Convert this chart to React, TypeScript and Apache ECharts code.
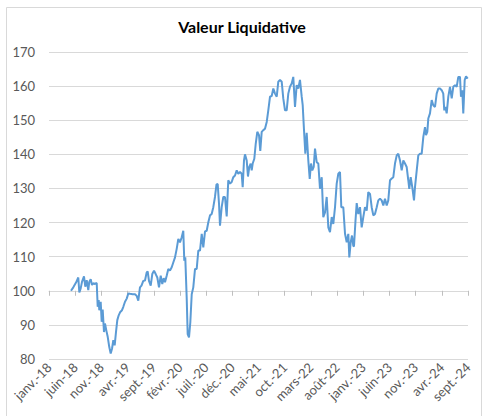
import React, { useEffect, useRef } from "react";
import * as echarts from "echarts";

const tickLabels = [
  "janv.-18", "juin-18", "nov.-18", "avr.-19", "sept.-19", "févr.-20", "juil.-20", "déc.-20",
  "mai-21", "oct.-21", "mars-22", "août-22", "janv.-23", "juin-23", "nov.-23", "avr.-24", "sept.-24",
];

// months elapsed since janv.-18
const months = [
  4.2, 4.64, 5.16, 5.59, 5.79, 6.05, 6.3, 6.68, 6.93, 7.2, 7.5, 7.69, 7.96, 8.21, 8.46, 8.78, 9.11,
  9.3, 9.49, 9.6, 9.87, 10.06, 10.25, 10.5, 10.69, 10.94, 11.21, 11.51, 11.78, 12.03, 12.28, 12.54,
  12.79, 13.04, 13.31, 13.61, 13.94, 14.19, 14.51, 14.84, 15.14, 15.47, 15.98, 16.42, 16.74, 17.05,
  17.37, 17.66, 18.0, 18.33, 18.65, 18.84, 19.09, 19.42, 19.72, 20.05, 20.37, 20.68, 21.0, 21.33,
  21.63, 21.9, 22.15, 22.47, 22.78, 23.1, 23.43, 23.73, 24.06, 24.38, 24.69, 25.01, 25.34, 25.64,
  25.83, 26.02, 26.29, 26.48, 26.73, 26.98, 27.25, 27.55, 27.88, 28.2, 28.51, 28.83, 29.16, 29.46,
  29.79, 30.11, 30.42, 30.74, 31.06, 31.37, 31.69, 31.98, 32.21, 32.46, 32.65, 32.97, 33.28, 33.6,
  33.93, 34.23, 34.56, 34.88, 35.19, 35.51, 35.84, 36.14, 36.47, 36.79, 36.98, 37.23, 37.42, 37.75,
  37.99, 38.24, 38.51, 38.7, 38.89, 39.2, 39.47, 39.77, 40.1, 40.34, 40.61, 40.92, 41.24, 41.57,
  41.87, 42.2, 42.52, 42.83, 43.15, 43.48, 43.78, 44.11, 44.43, 44.73, 45.06, 45.38, 45.69, 46.01,
  46.34, 46.64, 46.97, 47.29, 47.6, 47.92, 48.25, 48.44, 48.69, 48.94, 49.2, 49.51, 49.78, 50.02,
  50.27, 50.54, 50.79, 51.11, 51.42, 51.74, 52.07, 52.37, 52.7, 53.02, 53.33, 53.65, 53.98, 54.28,
  54.61, 54.93, 55.24, 55.56, 55.81, 56.19, 56.52, 56.84, 57.15, 57.34, 57.6, 57.85, 58.1, 58.23,
  58.52, 58.75, 59.05, 59.38, 59.7, 60.01, 60.33, 60.66, 60.96, 61.29, 61.61, 61.92, 62.24, 62.57,
  62.87, 63.2, 63.52, 63.83, 64.15, 64.48, 64.78, 65.11, 65.43, 65.74, 66.06, 66.39, 66.69, 67.02,
  67.34, 67.65, 67.97, 68.29, 68.6, 68.79, 69.06, 69.36, 69.69, 69.88, 70.21, 70.51, 70.84, 71.16,
  71.47, 71.79, 71.98, 72.23, 72.42, 72.74, 73.07, 73.37, 73.7, 74.02, 74.33, 74.65, 74.98, 75.28,
  75.47, 75.67, 75.93, 76.24, 76.56, 76.89, 77.19, 77.52, 77.84, 78.15, 78.47, 78.66, 78.91, 79.1,
  79.37, 79.62, 79.94,
];

const values = [
  100, 101, 102.4, 103.9, 99.5, 100.7, 102.6, 104.2, 101.2, 103.1, 100.2, 102.6, 103.4, 101.7, 102.2, 102, 102.3,
  95.3, 97.3, 94.3, 96.8, 90.9, 94.5, 87.9, 90.4, 88.4, 86.5, 83.5, 81.6, 83, 85.5, 84,
  87.9, 91.4, 92.8, 93.8, 94.3, 95.3, 96.8, 97.7, 99.2, 99.1, 99, 99, 98.5, 97.1,
  101, 101.5, 102.9, 103, 105.4, 105.7, 102.9, 101.5, 104.9, 105.9, 104.9, 103.9, 101, 104.4,
  102, 103.7, 102.5, 104.4, 106.4, 105.9, 106.9, 108.3, 109.8, 112.3, 115.2, 114.2, 115.7, 117.6,
  108.8, 109.8, 98, 87.3, 86.3, 90.7, 99, 101, 106.4, 106.4, 111.8, 111.8, 116.7, 112.7,
  117.4, 117.6, 120.1, 122.1, 122.5, 124.5, 127.5, 131.2, 131.3, 125.5, 119.1, 124.5, 127.5, 127.5,
  121.8, 132.4, 131.4, 131.9, 133.3, 133.8, 135.3, 134.3, 134.8, 134.3, 130.4, 138.2, 140, 138.2,
  133.5, 136.3, 137.3, 135.3, 137.3, 138.7, 143.1, 146.6, 145.6, 141, 146.6, 147.1, 147.5, 149.5,
  152.9, 156.9, 157.1, 159.3, 157.8, 156.9, 161.3, 161.8, 161.3, 156.4, 152.9, 152.9, 157.8, 159.8,
  160.8, 162.7, 153.9, 160.3, 159.3, 161.8, 156.9, 154.4, 147.1, 140.2, 146.3, 138.2, 132.8, 137.3,
  135.3, 136.3, 141.7, 137.7, 137.3, 129.9, 133.3, 121.6, 123, 127.5, 118.6, 117.2, 121.6, 119.6,
  124.5, 131.4, 134.3, 134.8, 124.5, 124.5, 116.7, 114.2, 116.7, 109.8, 114.2, 116.2, 113.2, 113,
  120.6, 125.7, 122.5, 124.5, 118.6, 121.6, 124.5, 123.5, 128.9, 128.4, 124.5, 122.1, 122.5, 124.5,
  126.5, 127, 126.5, 125, 127, 125, 126.5, 132.4, 132.9, 133.3, 137.3, 139.7, 140.2, 138.2,
  135.3, 138.2, 137.3, 136.3, 132.4, 129.9, 133.3, 130.4, 126.5, 130.4, 135.3, 139.7, 140.2, 140.2,
  145.1, 148, 145.6, 146.6, 150.5, 152, 155.9, 154.4, 153.9, 157.8, 159.3, 159.3, 158.8, 157.8,
  152.9, 153.9, 152, 156.9, 159.8, 156.4, 159.8, 160.3, 159.8, 162.7, 162.7, 156.9, 158.8, 152,
  161.8, 162.9, 162.2,
];

export default function App() {
  const ref = useRef<HTMLDivElement>(null);
  useEffect(() => {
    const chart = echarts.init(ref.current!, null, { renderer: "svg" });
    const W = 484, H = 416;
    const yMin = 80, yMax = 170, axisCross = 100;
    const gridTop = 52, gridBottom = 57, gridLeft = 49, gridRight = 16;
    const plotH = H - gridTop - gridBottom;
    const crossOffset = -((axisCross - yMin) / (yMax - yMin)) * plotH;
    const font = "Lato, 'Open Sans', sans-serif";
    chart.setOption({
      animation: false,
      backgroundColor: "#ffffff",
      textStyle: { fontFamily: font },
      title: {
        text: "Valeur Liquidative",
        left: "center",
        top: 13,
        textStyle: { fontSize: 16, fontWeight: "bold", color: "#000000", fontFamily: font },
      },
      graphic: [
        {
          type: "rect",
          shape: { x: 6.5, y: 7.5, width: W - 9, height: H },
          style: { fill: "none", stroke: "#d9d9d9", lineWidth: 1 },
          silent: true,
        },
      ],
      grid: { left: gridLeft, right: gridRight, top: gridTop, bottom: gridBottom },
      xAxis: [
        {
          type: "value",
          min: 0,
          max: 80,
          interval: 5,
          axisLine: { show: false },
          axisTick: { show: false },
          splitLine: { show: false },
          axisLabel: {
            rotate: 45,
            fontSize: 13,
            color: "#595959",
            margin: 6,
            fontFamily: font,
            formatter: (v: number) => tickLabels[Math.round(v / 5)] ?? "",
          },
        },
        {
          type: "value",
          min: 0,
          max: 80,
          interval: 5,
          position: "bottom",
          offset: crossOffset,
          axisLine: { show: true, lineStyle: { color: "#d9d9d9", width: 1 } },
          axisTick: { show: true, length: 5, lineStyle: { color: "#bfbfbf" } },
          axisLabel: { show: false },
          splitLine: { show: false },
        },
      ],
      yAxis: {
        type: "value",
        min: yMin,
        max: yMax,
        interval: 10,
        axisLine: { show: false },
        axisTick: { show: false },
        splitLine: { lineStyle: { color: "#d9d9d9", width: 1 } },
        axisLabel: { fontSize: 13, color: "#595959", margin: 14, fontFamily: font },
      },
      series: [
        {
          type: "line",
          xAxisIndex: 0,
          showSymbol: false,
          data: months.map((m, i) => [m, values[i]]),
          lineStyle: { color: "#5b9bd5", width: 2 },
          itemStyle: { color: "#5b9bd5" },
        },
      ],
    });
    return () => chart.dispose();
  }, []);
  return (
    <div
      ref={ref}
      style={{ position: "fixed", left: 0, top: 0, width: 484, height: 416, background: "#fff" }}
    />
  );
}
